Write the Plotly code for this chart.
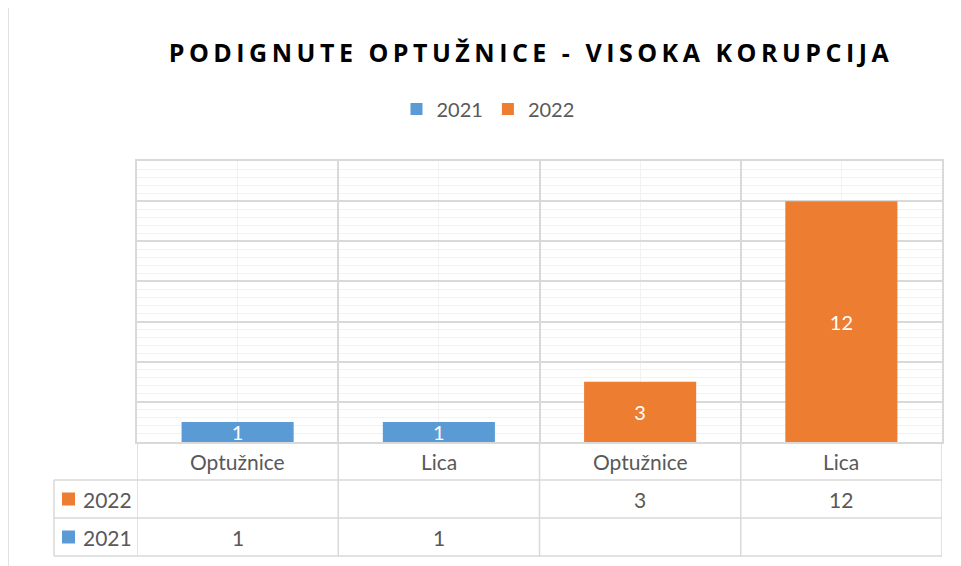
import plotly.graph_objects as go

# ---- data ----
categories = ["Optužnice", "Lica", "Optužnice", "Lica"]
series_names = ["2021", "2022"]
values_2021 = [1, 1, None, None]
values_2022 = [None, None, 3, 12]
series_colors = ["#5B9BD5", "#ED7D31"]
title_text = "PODIGNUTE OPTUŽNICE - VISOKA KORUPCIJA"

# ---- geometry (reference pixels; page body has an 8px margin) ----
OFF = 8
W, H = 961 - OFF, 566 - OFF
L, R, T, B = 137, 942, 161, 442


def px(x):
    return (x - L) / (R - L)


def py(y):
    return (B - y) / (B - T)


GRID = "#D9D9D9"
MINOR = "#F2F2F2"
TXT = "#595959"
FONT = "Lato"
FS = 21

xs = list(range(len(categories)))
series_values = [values_2021, values_2022]

fig = go.Figure()
for name, vals, col in zip(series_names, series_values, series_colors):
    fig.add_trace(go.Bar(
        x=xs, y=vals, name=name, marker=dict(color=col, line=dict(width=0)),
        width=0.557, text=[("" if v is None else str(v)) for v in vals],
        textposition="inside", insidetextanchor="middle", constraintext="none", textangle=0,
        textfont=dict(family=FONT, size=20, color="white"), cliponaxis=False,
        hoverinfo="skip",
    ))

shapes = []
# outer chart border
shapes.append(dict(type="rect", xref="paper", yref="paper",
                   x0=px(8), x1=px(975), y0=py(7), y1=py(580),
                   line=dict(color=GRID, width=1.5), fillcolor="rgba(0,0,0,0)", layer="below"))
# table vertical lines at category boundaries
for i in range(len(categories) + 1):
    shapes.append(dict(type="line", xref="x", yref="paper", x0=i - 0.5, x1=i - 0.5,
                       y0=py(442), y1=py(556), line=dict(color=GRID, width=1.5)))
# left column border
shapes.append(dict(type="line", xref="paper", yref="paper", x0=px(54), x1=px(54),
                   y0=py(480), y1=py(556), line=dict(color=GRID, width=1.5)))
# table horizontal lines
for yy in [480, 518, 556]:
    shapes.append(dict(type="line", xref="paper", yref="paper", x0=px(54), x1=1,
                       y0=py(yy), y1=py(yy), line=dict(color=GRID, width=1.5)))

annotations = []
# category row
for i, c in enumerate(categories):
    annotations.append(dict(x=i, y=py(461), xref="x", yref="paper", text=c, showarrow=False,
                            font=dict(family=FONT, size=FS, color=TXT), xanchor="center", yanchor="middle"))
# series rows (2022 first, then 2021)
row_y = {"2022": 499, "2021": 537}
for name, vals, col in zip(series_names, series_values, series_colors):
    yc = row_y[name]
    shapes.append(dict(type="rect", xref="paper", yref="paper", x0=px(62), x1=px(75),
                       y0=py(yc - 6.5), y1=py(yc + 6.5), fillcolor=col, line=dict(width=0)))
    annotations.append(dict(x=px(81), y=py(yc), xref="paper", yref="paper", text=name, showarrow=False,
                            font=dict(family=FONT, size=FS, color=TXT), xanchor="left", yanchor="middle"))
    for i, v in enumerate(vals):
        if v is not None:
            annotations.append(dict(x=i, y=py(yc), xref="x", yref="paper", text=str(v), showarrow=False,
                                    font=dict(family=FONT, size=FS, color=TXT), xanchor="center", yanchor="middle"))

fig.update_layout(
    width=W, height=H,
    margin=dict(l=L - OFF, r=W - (R - OFF), t=T - OFF, b=H - (B - OFF), pad=0),
    paper_bgcolor="white", plot_bgcolor="white",
    barmode="overlay",
    title=dict(text='<span style="letter-spacing:4.5px">' + title_text + "</span>",
               x=(531 - OFF) / W, xanchor="center", y=1 - (53 - OFF) / H, yanchor="middle",
               xref="container", yref="container",
               font=dict(family="Open Sans", size=25, color="#000000", weight=700)),
    legend=dict(orientation="h", x=px(488), xanchor="center", y=py(109), yanchor="middle",
                font=dict(family=FONT, size=20, color=TXT), traceorder="normal",
                itemclick=False, itemdoubleclick=False),
    xaxis=dict(range=[-0.5, len(categories) - 0.5], tickmode="linear", tick0=-0.5, dtick=1,
               showticklabels=False, ticks="", showgrid=True, gridcolor=GRID, gridwidth=1.5,
               zeroline=False, showline=True, linecolor=GRID, linewidth=1.5, mirror=True,
               minor=dict(tickmode="linear", tick0=0, dtick=1, showgrid=True, gridcolor=MINOR, gridwidth=1, ticks="")),
    yaxis=dict(range=[0, 14], tickmode="linear", tick0=0, dtick=2, showticklabels=False, ticks="",
               showgrid=True, gridcolor=GRID, gridwidth=1.5, zeroline=False,
               showline=True, linecolor=GRID, linewidth=1.5, mirror=True,
               minor=dict(tickmode="linear", tick0=0, dtick=0.4, showgrid=True, gridcolor=MINOR, gridwidth=1, ticks="")),
    shapes=shapes, annotations=annotations,
)

fig.write_html("out.html")
